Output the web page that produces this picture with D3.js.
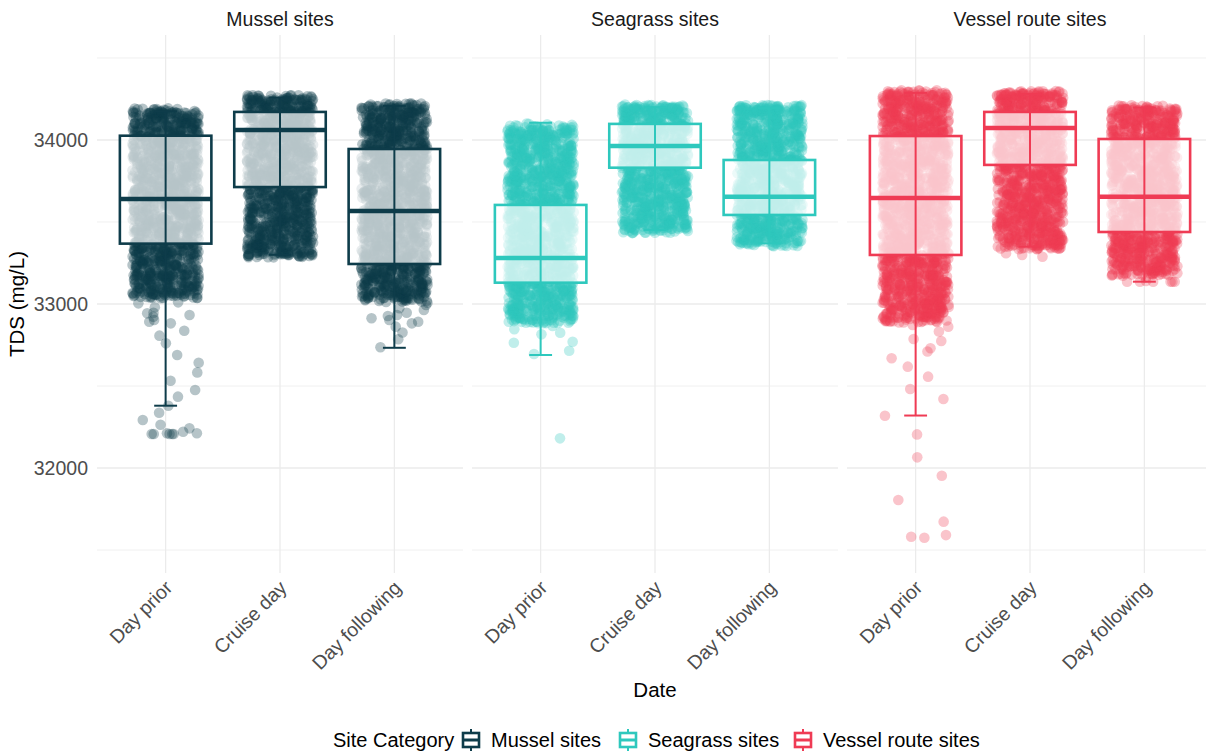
<!DOCTYPE html>
<html>
<head>
<meta charset="utf-8">
<script src="https://cdn.jsdelivr.net/npm/d3@7/dist/d3.min.js"></script>
<style>
  html, body { margin: 0; padding: 0; background: #ffffff; }
  svg { display: block; font-family: "Liberation Sans", Arial, sans-serif; }
</style>
</head>
<body>
<svg id="chart" width="1206" height="751"></svg>
<script>
// ---------------- DATA ----------------
const siteCategories = ["Mussel sites", "Seagrass sites", "Vessel route sites"];
const dates = ["Day prior", "Cruise day", "Day following"];
const siteColors = ["#0e3c4a", "#2ec8bd", "#ef3b54"];
const yTicks = [32000, 33000, 34000];
const yMinorTicks = [31500, 32500, 33500, 34500];

// box stats per date: [lower whisker, Q1, median, Q3, upper whisker]
const musselBoxes = [
  [32380, 33368, 33640, 34026, 34175],
  [33300, 33713, 34061, 34171, 34258],
  [32733, 33244, 33567, 33945, 34208]
];
const seagrassBoxes = [
  [32689, 33130, 33280, 33604, 34105],
  [33451, 33831, 33963, 34098, 34200],
  [33370, 33543, 33654, 33878, 34195]
];
const vesselBoxes = [
  [32320, 33299, 33646, 34024, 34287],
  [33350, 33848, 34073, 34171, 34280],
  [33136, 33439, 33654, 34006, 34198]
];

// dense point clouds (TDS, mg/L)
const musselPriorCore = [33055,33080,33110,33135,33170,33190,33225,33250,33280,33310,33335,33365,33390,33420,33450,33475,33505,33530,33560,33590,33615,33645,33670,33700,33730,33760,33785,33815,33840,33870,33900,33925,33955,33985,34010,34040,34065,34095,34120,34150,34175];
const musselCruiseCore = [33300,33320,33350,33375,33405,33430,33460,33490,33515,33545,33570,33600,33630,33655,33685,33710,33740,33770,33795,33825,33850,33880,33910,33935,33965,33990,34020,34050,34075,34105,34130,34160,34185,34210,34235,34255];
const musselFollowCore = [33030,33060,33085,33115,33140,33170,33200,33225,33255,33280,33310,33340,33365,33395,33420,33450,33480,33505,33535,33560,33590,33620,33645,33675,33700,33730,33760,33785,33815,33840,33870,33900,33925,33955,33980,34010,34040,34065,34095,34120,34150,34180,34205];
const seagrassPriorCore = [32900,32925,32955,32980,33010,33040,33065,33095,33120,33150,33180,33205,33235,33260,33290,33320,33345,33375,33400,33430,33460,33485,33515,33540,33570,33600,33625,33655,33680,33710,33740,33765,33795,33820,33850,33880,33905,33935,33960,33990,34020,34045,34070];
const seagrassCruiseCore = [33450,33475,33500,33530,33555,33585,33610,33640,33665,33695,33720,33750,33775,33805,33830,33860,33885,33915,33940,33970,33995,34025,34050,34080,34105,34135,34160,34185,34200];
const seagrassFollowCore = [33370,33395,33425,33450,33480,33505,33535,33560,33590,33615,33645,33670,33700,33725,33755,33780,33810,33835,33865,33890,33920,33945,33975,34000,34030,34055,34085,34110,34140,34165,34190,34195];
const vesselPriorCore = [32905,32930,32960,32990,33015,33045,33075,33100,33130,33160,33185,33215,33245,33270,33300,33330,33355,33385,33415,33440,33470,33500,33525,33555,33585,33610,33640,33670,33695,33725,33755,33780,33810,33840,33865,33895,33925,33950,33980,34010,34035,34065,34095,34120,34150,34180,34205,34235,34260,34285];
const vesselCruiseCore = [33350,33375,33405,33430,33460,33490,33515,33545,33570,33600,33630,33655,33685,33710,33740,33770,33795,33825,33850,33880,33910,33935,33965,33990,34020,34050,34075,34105,34130,34160,34190,34215,34245,34270,34280];
const vesselFollowCore = [33190,33215,33245,33270,33300,33330,33355,33385,33410,33440,33470,33495,33525,33550,33580,33610,33635,33665,33690,33720,33750,33775,33805,33830,33860,33890,33915,33945,33970,34000,34030,34055,34085,34110,34140,34170,34195];

// sparse individual points (tails / outliers)
const musselPriorTail = [33065,33049,33035,33010,33004,32980,32947,32943,32933,32923,32902,32892,32882,32837,32807,32760,32689,32642,32583,32532,32476,32435,32380,32337,32293,32264,32242,32221,32212,32207,32207,32207,32207,32207,32212];
const musselCruiseTail = [];
const musselFollowTail = [33055,33045,33024,33008,32994,32974,32963,32947,32933,32927,32913,32902,32892,32882,32862,32826,32785,32736];
const seagrassPriorTail = [34100,34098,34095,34092,34090,32866,32846,32825,32815,32770,32764,32715,32695,32181];
const seagrassCruiseTail = [];
const seagrassFollowTail = [];
const vesselPriorTail = [32943,32872,32862,32832,32787,32774,32730,32710,32669,32618,32557,32482,32421,32319,32205,32065,31953,31805,31673,31591,31581,31575];
const vesselCruiseTail = [33360,33309,33299,33288];
const vesselFollowTail = [33160,33140,33136,33136,33136,33136,33136,33136];

const boxesBySite = [musselBoxes, seagrassBoxes, vesselBoxes];
const coreBySite = [
  [musselPriorCore, musselCruiseCore, musselFollowCore],
  [seagrassPriorCore, seagrassCruiseCore, seagrassFollowCore],
  [vesselPriorCore, vesselCruiseCore, vesselFollowCore]
];
const tailBySite = [
  [musselPriorTail, musselCruiseTail, musselFollowTail],
  [seagrassPriorTail, seagrassCruiseTail, seagrassFollowTail],
  [vesselPriorTail, vesselCruiseTail, vesselFollowTail]
];

// ---------------- LAYOUT ----------------
const svg = d3.select("#chart");
const panelTop = 35, panelBottom = 573;
const panelW = 366, panelGap = 9, panelLeft0 = 97;
const y = d3.scaleLinear().domain([31360, 34640]).range([panelBottom, panelTop]);

const JITTER_COPIES = 34;
function hash(a, b) {
  const s = Math.sin(a * 12.9898 + b * 78.233) * 43758.5453;
  return s - Math.floor(s);
}

const fontTick = 19.5;

siteCategories.forEach((site, si) => {
  const x0 = panelLeft0 + si * (panelW + panelGap);
  const x = d3.scalePoint().domain(dates).range([x0, x0 + panelW]).padding(0.6);
  const step = x.step();
  const color = siteColors[si];
  const g = svg.append("g");

  // grid
  g.selectAll(".minor").data(yMinorTicks).join("line")
    .attr("x1", x0).attr("x2", x0 + panelW)
    .attr("y1", d => y(d)).attr("y2", d => y(d))
    .attr("stroke", "#f0f0f0").attr("stroke-width", 1);
  g.selectAll(".major").data(yTicks).join("line")
    .attr("x1", x0).attr("x2", x0 + panelW)
    .attr("y1", d => y(d)).attr("y2", d => y(d))
    .attr("stroke", "#ebebeb").attr("stroke-width", 1.3);
  g.selectAll(".vgrid").data(dates).join("line")
    .attr("x1", d => x(d)).attr("x2", d => x(d))
    .attr("y1", panelTop).attr("y2", panelBottom)
    .attr("stroke", "#ebebeb").attr("stroke-width", 1.3);

  // strip title
  svg.append("text").attr("x", x0 + panelW / 2).attr("y", 26)
    .attr("text-anchor", "middle").attr("font-size", fontTick).attr("fill", "#1a1a1a")
    .text(site);

  // x tick labels
  dates.forEach(dt => {
    svg.append("text")
      .attr("transform", `translate(${x(dt) + 8},${589}) rotate(-45)`)
      .attr("text-anchor", "end").attr("font-size", fontTick).attr("fill", "#4d4d4d")
      .text(dt);
  });

  // points
  const jw = step * 0.29;
  dates.forEach((dt, di) => {
    const cx = x(dt);
    const pts = [];
    coreBySite[si][di].forEach((v, i) => {
      for (let k = 0; k < JITTER_COPIES; k++) {
        pts.push({ v: v, dx: (hash(si * 1000 + di * 100 + i, k) * 2 - 1) * jw,
                   dy: (hash(k + 7, si * 1000 + di * 100 + i) * 2 - 1) * 3 });
      }
    });
    tailBySite[si][di].forEach((v, i) => {
      pts.push({ v: v, dx: (hash(i + 500 + si * 31 + di * 7, 3.7) * 2 - 1) * jw, dy: 0 });
    });
    g.append("g").selectAll("circle").data(pts).join("circle")
      .attr("cx", d => cx + d.dx).attr("cy", d => y(d.v) + d.dy)
      .attr("r", 5.3).attr("fill", color).attr("fill-opacity", 0.3);
  });

  // boxes
  const bw = step * 0.8;
  const cw = step * 0.2;
  dates.forEach((dt, di) => {
    const [lo, q1, med, q3, hi] = boxesBySite[si][di];
    const cx = x(dt);
    g.append("rect")
      .attr("x", cx - bw / 2).attr("y", y(q3))
      .attr("width", bw).attr("height", y(q1) - y(q3))
      .attr("fill", "#ffffff").attr("fill-opacity", 0.7)
      .attr("stroke", color).attr("stroke-width", 2.6);
    g.append("line")
      .attr("x1", cx - bw / 2).attr("x2", cx + bw / 2)
      .attr("y1", y(med)).attr("y2", y(med))
      .attr("stroke", color).attr("stroke-width", 4.6);
    // error bar
    g.append("line").attr("x1", cx).attr("x2", cx)
      .attr("y1", y(lo)).attr("y2", y(hi))
      .attr("stroke", color).attr("stroke-width", 2);
    [lo, hi].forEach(w => {
      g.append("line").attr("x1", cx - cw / 2).attr("x2", cx + cw / 2)
        .attr("y1", y(w)).attr("y2", y(w))
        .attr("stroke", color).attr("stroke-width", 2);
    });
  });
});

// y tick labels
yTicks.forEach(t => {
  svg.append("text").attr("x", 88).attr("y", y(t)).attr("dy", "0.35em")
    .attr("text-anchor", "end").attr("font-size", fontTick).attr("fill", "#4d4d4d")
    .text(t);
});

// axis titles
svg.append("text").attr("transform", `translate(24,${(panelTop + panelBottom) / 2}) rotate(-90)`)
  .attr("text-anchor", "middle").attr("font-size", 20.5).attr("fill", "#000")
  .text("TDS (mg/L)");
svg.append("text").attr("x", 655).attr("y", 697)
  .attr("text-anchor", "middle").attr("font-size", 20.5).attr("fill", "#000")
  .text("Date");

// legend
const legY = 740;
const lg = svg.append("g");
lg.append("text").attr("x", 333).attr("y", legY).attr("dy", "0.35em")
  .attr("font-size", 20).attr("fill", "#000").text("Site Category");
const legendKeyX = [463, 620, 795];
siteCategories.forEach((s, i) => {
  const kx = legendKeyX[i];
  const c = siteColors[i];
  const kg = lg.append("g");
  kg.append("line").attr("x1", kx + 8).attr("x2", kx + 8).attr("y1", legY - 11).attr("y2", legY + 11)
    .attr("stroke", c).attr("stroke-width", 2);
  kg.append("rect").attr("x", kx).attr("y", legY - 7).attr("width", 16).attr("height", 14)
    .attr("fill", "#fff").attr("stroke", c).attr("stroke-width", 2.6);
  kg.append("line").attr("x1", kx).attr("x2", kx + 16).attr("y1", legY).attr("y2", legY)
    .attr("stroke", c).attr("stroke-width", 3);
  kg.append("text").attr("x", kx + 28).attr("y", legY).attr("dy", "0.35em")
    .attr("font-size", 20).attr("fill", "#000").text(s);
});
</script>
</body>
</html>
